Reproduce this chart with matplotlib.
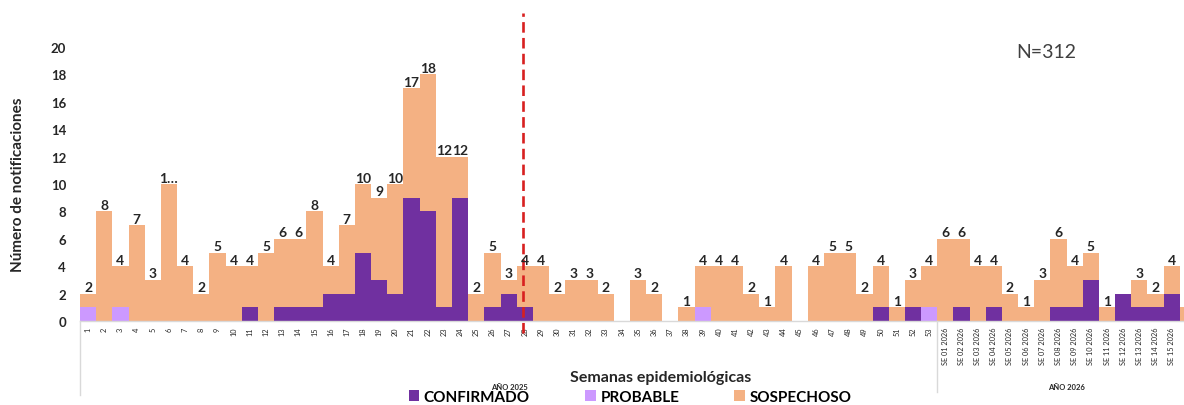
import matplotlib
matplotlib.use('Agg')
import matplotlib.pyplot as plt
import numpy as np

plt.rcParams['font.family'] = ['Lato', 'DejaVu Sans']

# epidemiological weeks: 2025 (1-53) and 2026 (SE 01 - SE 16)
weeks_2025 = [str(i) for i in range(1, 54)]
weeks_2026 = ['SE %02d 2026' % i for i in range(1, 17)]
semanas = weeks_2025 + weeks_2026

confirmado = [0, 0, 0, 0, 0, 0, 0, 0, 0, 0,
              1, 0, 1, 1, 1, 2, 2, 5, 3, 2,
              9, 8, 1, 9, 0, 1, 2, 1, 0, 0,
              0, 0, 0, 0, 0, 0, 0, 0, 0, 0,
              0, 0, 0, 0, 0, 0, 0, 0, 0, 1,
              0, 1, 0,
              0, 1, 0, 1, 0, 0, 0, 1, 1, 3, 0, 2, 1, 1, 2, 0]
probable = [1, 0, 1, 0, 0, 0, 0, 0, 0, 0,
            0, 0, 0, 0, 0, 0, 0, 0, 0, 0,
            0, 0, 0, 0, 0, 0, 0, 0, 0, 0,
            0, 0, 0, 0, 0, 0, 0, 0, 1, 0,
            0, 0, 0, 0, 0, 0, 0, 0, 0, 0,
            0, 0, 1,
            0, 0, 0, 0, 0, 0, 0, 0, 0, 0, 0, 0, 0, 0, 0, 0]
sospechoso = [1, 8, 3, 7, 3, 10, 4, 2, 5, 4,
              3, 5, 5, 5, 7, 2, 5, 5, 6, 8,
              8, 10, 11, 3, 2, 4, 1, 3, 4, 2,
              3, 3, 2, 0, 3, 2, 0, 1, 3, 4,
              4, 2, 1, 4, 0, 4, 5, 5, 2, 3,
              1, 2, 3,
              6, 5, 4, 3, 2, 1, 3, 5, 3, 2, 1, 0, 2, 1, 2, 1]

# labels Excel dropped or truncated
label_override = {5: '1…'}
label_hidden = [64, 68]

c_conf = '#7030A0'
c_prob = '#CC99FF'
c_sosp = '#F4B183'
txt = '#262626'

conf = np.array(confirmado)
prob = np.array(probable)
sosp = np.array(sospechoso)
total = conf + prob + sosp
x = np.arange(len(semanas))

fig = plt.figure(figsize=(11.84, 4.06), dpi=100)
W, H = 1184, 406
ax = fig.add_axes([80 / W, 84 / H, (1196 - 80) / W, 274 / H])

b1 = ax.bar(x, conf, width=1.0, color=c_conf, linewidth=0, label='CONFIRMADO')
b2 = ax.bar(x, prob, width=1.0, bottom=conf, color=c_prob, linewidth=0, label='PROBABLE')
b3 = ax.bar(x, sosp, width=1.0, bottom=conf + prob, color=c_sosp, linewidth=0, label='SOSPECHOSO')

for i, t in enumerate(total):
    if t == 0 or i in label_hidden:
        continue
    lab = label_override.get(i, str(t))
    ax.annotate(lab, (x[i], t), xytext=(0, 0.3), textcoords='offset points',
                ha='center', va='bottom', fontsize=10, fontweight='bold', color=txt)

ax.set_xlim(-0.5, len(semanas) - 0.5)
ax.set_ylim(0, 20)
ax.set_yticks(range(0, 21, 2))
ax.tick_params(axis='y', length=0, pad=10, labelsize=9.5, labelcolor=txt)
for lb in ax.get_yticklabels():
    lb.set_fontweight('bold')
ax.set_xticks(x)
ax.set_xticklabels(semanas, rotation=90, fontsize=5.3, color=txt)
ax.tick_params(axis='x', length=0, pad=4)
# last week runs off the right edge, its label is not shown
ax.get_xticklabels()[-1].set_visible(False)

for s in ['top', 'right', 'left']:
    ax.spines[s].set_visible(False)
ax.spines['bottom'].set_color('#d9d9d9')
ax.spines['bottom'].set_linewidth(1.0)

# group separators of the two-level category axis
sep_kw = dict(color='#d9d9d9', linewidth=1.0, clip_on=False)
ax.plot([-0.5, -0.5], [0, -5.4], **sep_kw)
ax.plot([52.5, 52.5], [0, -5.2], **sep_kw)

# start of 2026 season marker
ax.plot([26.9, 26.9], [-0.9, 22.5], color='#d82020', linewidth=1.9,
        dashes=(4, 2), clip_on=False)

fig.text(509 / W, 1 - 388 / H, 'AÑO 2025', fontsize=5.5, fontweight='bold',
         color=txt, ha='center', va='center')
fig.text(1066 / W, 1 - 388 / H, 'AÑO 2026', fontsize=5.5, fontweight='bold',
         color=txt, ha='center', va='center')
fig.text(661 / W, 1 - 378 / H, 'Semanas epidemiológicas', fontsize=11.5,
         fontweight='bold', color=txt, ha='center', va='center')
fig.text(18 / W, 1 - 185 / H, 'Número de notificaciones', fontsize=11,
         fontweight='bold', color=txt, ha='center', va='center', rotation=90)
fig.text(1046 / W, 1 - 52 / H, 'N=312', fontsize=14, color='#404040',
         ha='center', va='center')

fig.legend(handles=[b1, b2, b3], loc='center', bbox_to_anchor=(630 / W, 1 - 398 / H),
           ncol=3, frameon=False, handlelength=0.7, handleheight=0.7,
           handletextpad=0.3, columnspacing=3.6,
           prop={'weight': 'bold', 'size': 11})

fig.savefig('out.png', dpi=100)
